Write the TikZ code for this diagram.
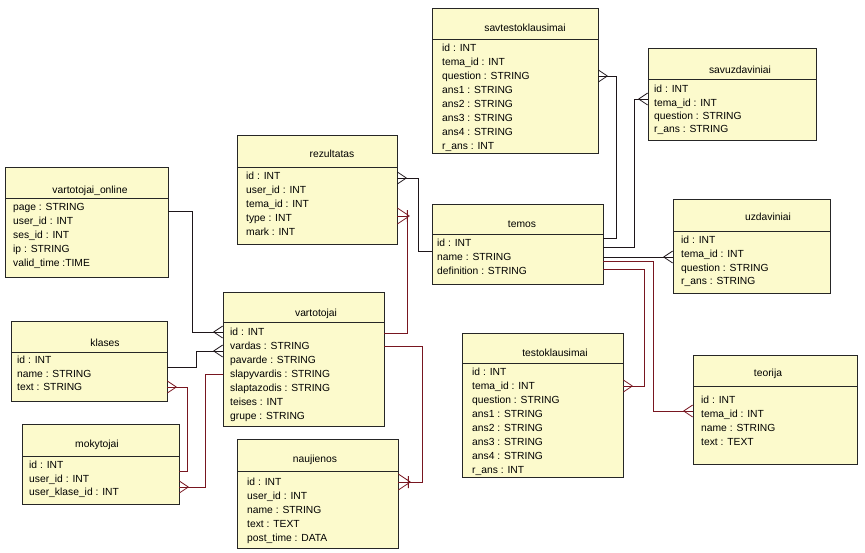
\documentclass[tikz,border=0pt]{standalone}
\usepackage{fontspec}
\setmainfont{Liberation Sans}
\usetikzlibrary{fit}
\definecolor{boxfill}{RGB}{252,250,204}
\definecolor{relred}{RGB}{120,22,32}
\definecolor{reldark}{RGB}{30,22,26}
\tikzset{
  ebox/.style={draw=black!85, fill=boxfill, line width=0.7pt, inner sep=0pt, rectangle},
  etitle/.style={font=\fontsize{10.3}{12}\selectfont, inner sep=0pt, anchor=base},
  attr/.style={font=\fontsize{10.3}{12}\selectfont, inner sep=0pt, anchor=base west},
  conn/.style={line width=0.8pt, draw=reldark},
  connr/.style={line width=0.8pt, draw=relred},
  crowL/.pic={\draw[pic actions] (-9,0) -- (0,-6) (-9,0) -- (0,6);},
  crowR/.pic={\draw[pic actions] (9,0) -- (0,-6) (9,0) -- (0,6);},
  crowbarR/.pic={\draw[pic actions] (12,0) -- (0,-8) (12,0) -- (0,8) (10,-6) -- (10,6);},
}
\newcommand\entity[9]{%
  \node[ebox, fit={(#2,#3) (#4,#5)}] (#1) {};
  \draw[line width=0.7pt, black!85] (#2,#6) -- (#4,#6);
  \node[etitle] (#1-t) at (#7,#8) {#9};
}
\newcommand\attrs[5]{%
  \foreach \t [count=\i] in {#5} {
    \node[attr] (#1-\i) at (#2, {#3+(\i-1)*#4+3.7}) {\t};
  }
}
\begin{document}
\begin{tikzpicture}[x=1pt,y=-1pt]
\useasboundingbox (0,0) rectangle (865,552);

\entity{vo}{5}{167}{168}{277}{198}{90}{193}{vartotojai\_online}
\attrs{vo}{13}{207}{14}{page : STRING, user\_id : INT, ses\_id : INT, ip : STRING, valid\_time :TIME}

\entity{kl}{11}{321}{167}{401}{352}{105}{346}{klases}
\attrs{kl}{17}{360}{13.5}{id : INT, name : STRING, text : STRING}

\entity{mok}{22}{424}{179}{504}{456}{97}{447}{mokytojai}
\attrs{mok}{29}{465}{13.5}{id : INT, user\_id : INT, user\_klase\_id : INT}

\entity{vart}{223}{292}{384}{426}{322}{316}{316}{vartotojai}
\attrs{vart}{230}{332}{14}{id : INT, vardas : STRING, pavarde : STRING, slapyvardis : STRING, slaptazodis : STRING, teises : INT, grupe : STRING}

\entity{rez}{237}{135}{397}{244}{167}{332}{157}{rezultatas}
\attrs{rez}{246}{176}{14}{id : INT, user\_id : INT, tema\_id : INT, type : INT, mark : INT}

\entity{savt}{432}{8}{598}{153}{39}{525}{31}{savtestoklausimai}
\attrs{savt}{442}{48}{14}{id : INT, tema\_id : INT, question : STRING, ans1 : STRING, ans2 : STRING, ans3 : STRING, ans4 : STRING, r\_ans : INT}

\entity{savu}{648}{48}{816}{140}{79}{740}{73}{savuzdaviniai}
\attrs{savu}{654}{89}{13.3}{id : INT, tema\_id : INT, question : STRING, r\_ans : STRING}

\entity{tem}{432}{204}{603}{284}{234}{522}{227}{temos}
\attrs{tem}{437}{243}{14}{id : INT, name : STRING, definition : STRING}

\entity{uzd}{673}{199}{830}{293}{231}{768}{220}{uzdaviniai}
\attrs{uzd}{681}{240}{13.7}{id : INT, tema\_id : INT, question : STRING, r\_ans : STRING}

\entity{nau}{237}{439}{398}{548}{471}{315}{462}{naujienos}
\attrs{nau}{247}{482}{14}{id : INT, user\_id : INT, name : STRING, text : TEXT, post\_time : DATA}

\entity{tst}{462}{333}{623}{477}{363}{555}{356}{testoklausimai}
\attrs{tst}{472}{372}{14}{id : INT, tema\_id : INT, question : STRING, ans1 : STRING, ans2 : STRING, ans3 : STRING, ans4 : STRING, r\_ans : INT}

\entity{teo}{693}{355}{857}{464}{386}{768}{376}{teorija}
\attrs{teo}{701}{400}{14}{id : INT, tema\_id : INT, name : STRING, text : TEXT}

% connectors
\draw[conn] (vo.east |- 0,211) -- (192,211) -- (192,332) -- (vart.west |- 0,332);
\pic[conn] at (vart.west |- 0,332) {crowL};

\draw[conn] (kl.east |- 0,367) -- (196,367) -- (196,351) -- (vart.west |- 0,351);
\pic[conn] at (vart.west |- 0,351) {crowL};

\draw[connr] (kl.east |- 0,387) -- (187,387) -- (187,471) -- (mok.east |- 0,471);
\pic[connr] at (kl.east |- 0,387) {crowR};

\draw[connr] (mok.east |- 0,487) -- (205,487) -- (205,374) -- (vart.west |- 0,374);
\pic[connr] at (mok.east |- 0,487) {crowR};

\draw[connr] (vart.east |- 0,333) -- (407,333) -- (407,216) -- (rez.east |- 0,216);
\pic[connr] at (rez.east |- 0,216) {crowbarR};

\draw[conn] (rez.east |- 0,178) -- (418,178) -- (418,251) -- (tem.west |- 0,251);
\pic[conn] at (rez.east |- 0,178) {crowR};

\draw[connr] (vart.east |- 0,346) -- (422,346) -- (422,482) -- (nau.east |- 0,482);
\pic[connr] at (nau.east |- 0,482) {crowbarR};

\draw[conn] (tem.east |- 0,238) -- (616,238) -- (616,76) -- (savt.east |- 0,76);
\pic[conn] at (savt.east |- 0,76) {crowR};

\draw[conn] (tem.east |- 0,247) -- (634,247) -- (634,99) -- (savu.west |- 0,99);
\pic[conn] at (savu.west |- 0,99) {crowL};

\draw[conn] (tem.east |- 0,257) -- (uzd.west |- 0,257);
\pic[conn] at (uzd.west |- 0,257) {crowL};

\draw[connr] (tem.east |- 0,261) -- (653,261) -- (653,411) -- (teo.west |- 0,411);
\pic[connr] at (teo.west |- 0,411) {crowL};

\draw[connr] (tem.east |- 0,269) -- (644,269) -- (644,386) -- (tst.east |- 0,386);
\pic[connr] at (tst.east |- 0,386) {crowR};
\end{tikzpicture}
\end{document}
